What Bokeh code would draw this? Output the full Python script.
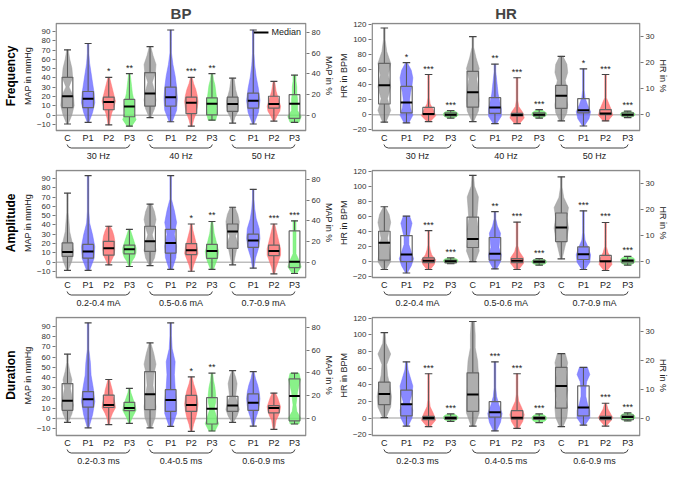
from bokeh.plotting import figure
from bokeh.layouts import column, row
from bokeh.models import Range1d, LinearAxis, FixedTicker, Title, Legend, LegendItem
from bokeh.core.properties import value
from bokeh.embed import file_html
from bokeh.resources import INLINE

FONT = "Liberation Sans"
COLORS = ["#9a9a9a", "#6b6bff", "#ff6b6b", "#6bef6b"] * 3
CAT_LABELS = ["C", "P1", "P2", "P3"] * 3
CAT_GROUP = [0, 0, 0, 0, 1, 1, 1, 1, 2, 2, 2, 2]
X = list(range(12))

FREQ_GROUPS = ["30 Hz", "40 Hz", "50 Hz"]
AMP_GROUPS = ["0.2-0.4 mA", "0.5-0.6 mA", "0.7-0.9 mA"]
DUR_GROUPS = ["0.2-0.3 ms", "0.4-0.5 ms", "0.6-0.9 ms"]

bp_freq_lo = [-9.5, -7.8, -10.5, -11.9, -2.7, -7.1, -11.9, -5.4, -8.5, -9.5, -6.4, -7.8]
bp_freq_q1 = [8.1, 8.1, 5.8, -1.7, 9.8, 9.8, 1.7, 0.3, 4.1, 7.5, 7.5, -3.4]
bp_freq_med = [20.3, 17.6, 14.2, 9.2, 23.4, 19.3, 13.2, 12.2, 11.9, 15.6, 11.9, 12.2]
bp_freq_q3 = [40.7, 25.4, 19.3, 16.9, 45.8, 30.2, 19.3, 18.6, 19.3, 23.7, 20.3, 22.0]
bp_freq_hi = [70.2, 77.0, 40.7, 44.7, 73.6, 91.5, 40.7, 44.7, 39.7, 91.5, 36.3, 43.0]
bp_freq_shape = [[1, 6, 9, 8, 2, 7, 6, 3, 1], [1, 6, 9, 8, 6, 4, 2, 1, 1], [1, 2, 4, 7, 9, 7, 5, 3, 1],
                 [3, 9, 6, 7, 6, 4, 3, 2, 1], [1, 6, 8, 6, 3, 7, 8, 4, 1], [2, 8, 9, 8, 6, 3, 1, 1, 1],
                 [1, 3, 6, 8, 9, 8, 6, 3, 1], [5, 7, 6, 7, 6, 5, 4, 2, 1], [1, 3, 7, 8, 8, 6, 4, 3, 2],
                 [1, 7, 9, 7, 4, 2, 1, 1, 1], [1, 4, 8, 9, 7, 5, 3, 2, 1], [6, 9, 4, 4, 4, 3, 3, 2, 2]]
bp_freq_sig = ["", "", "*", "**", "", "", "***", "**", "", "", "", ""]

hr_freq_lo = [-10, -10.8, -9.2, -4.6, -9.2, -12, -12, -4.6, -8.3, -15, -8.3, -3.8]
hr_freq_q1 = [14.2, 2.5, 0, -1.7, 10, 1.7, -1.5, -1.7, 8.3, 2.5, 0, -1.7]
hr_freq_med = [39.2, 16.2, 0.8, 0, 29.6, 9.6, -0.4, 0, 25, 5.8, 1.7, 0]
hr_freq_q3 = [68, 37.5, 9.6, 2.5, 57.5, 22.5, 1.7, 2.5, 38.8, 21.3, 6.7, 2.5]
hr_freq_hi = [115, 69, 53.3, 5.4, 103.7, 67, 49, 6.7, 77.5, 60.8, 53.3, 4.6]
hr_freq_shape = [[2, 8, 4, 8, 5, 8, 3, 1, 1], [3, 8, 5, 4, 5, 7, 8, 6, 1], [2, 9, 6, 2, 1, 1, 1, 1, 1],
                 [2, 6, 8, 9, 9, 9, 8, 6, 2], [1, 7, 8, 7, 5, 8, 4, 1, 1], [2, 8, 8, 6, 4, 3, 2, 1, 1],
                 [3, 9, 7, 2, 1, 1, 1, 1, 1], [2, 6, 8, 9, 9, 9, 7, 5, 2], [2, 7, 8, 6, 7, 5, 8, 7, 2],
                 [1, 7, 9, 5, 2, 1, 1, 1, 1], [3, 9, 7, 4, 1, 1, 1, 1, 1], [2, 6, 8, 9, 9, 9, 8, 6, 2]]
hr_freq_sig = ["", "*", "***", "***", "", "**", "***", "***", "", "*", "***", "***"]

bp_amp_lo = [-8.8, -8.8, -3, -4.7, -3.7, -7.8, -9.8, -7.8, -3, -6.4, -12.5, -12.2]
bp_amp_q1 = [6.1, 4.4, 7.5, 8.8, 11.5, 9.8, 8.1, 4.1, 14.9, 15.9, 7.1, -5.8]
bp_amp_med = [10.8, 11.5, 14.9, 13.9, 22.4, 20.7, 12.9, 11.9, 32.9, 23.4, 11.9, 0.3]
bp_amp_q3 = [20.7, 19, 22.4, 18.3, 38.6, 35.3, 20, 19, 41, 30.2, 18.3, 33.6]
bp_amp_hi = [74.2, 92.9, 38.6, 35.3, 62.4, 92.9, 41, 43.7, 59, 78.3, 41, 44.4]
bp_amp_shape = [[1, 6, 8, 6, 3, 2, 1, 1, 1], [2, 8, 9, 6, 2, 1, 1, 1, 1], [1, 4, 7, 8, 8, 8, 7, 5, 2],
                [1, 3, 7, 9, 9, 7, 5, 3, 1], [1, 6, 8, 6, 3, 6, 8, 6, 2], [2, 7, 8, 5, 8, 5, 1, 1, 1],
                [1, 3, 6, 9, 8, 6, 4, 2, 1], [2, 5, 8, 9, 7, 5, 3, 2, 1], [1, 3, 5, 7, 4, 8, 9, 7, 3],
                [1, 3, 7, 9, 8, 4, 2, 1, 1], [1, 3, 6, 9, 9, 7, 5, 3, 1], [3, 9, 6, 2, 2, 2, 2, 2, 2]]
bp_amp_sig = ["", "", "", "", "", "", "*", "**", "", "", "***", "***"]

hr_amp_lo = [-10.4, -15, -10.4, -2.5, 0, -9.6, -10.4, -4.6, 3.8, -10.4, -11.7, -4.6]
hr_amp_q1 = [2.1, 0, -1.3, -1.5, 18.8, 2.1, -1.3, -1.5, 26.7, 2.9, 0, -1.5]
hr_amp_med = [25, 9.6, 1.3, 0.4, 30, 10.4, 1.3, 0, 45.4, 10, 0.4, 1.3]
hr_amp_q3 = [40.4, 34.6, 5, 2, 59.2, 32.1, 4.2, 2, 64.6, 19.6, 8.3, 2.5]
hr_amp_hi = [72.9, 60.4, 41.3, 5, 114.6, 66.3, 52.5, 4.2, 112.5, 67.5, 52, 7.1]
hr_amp_shape = [[2, 8, 7, 6, 4, 6, 8, 6, 1], [1, 6, 9, 6, 3, 3, 5, 7, 4], [2, 7, 9, 4, 2, 1, 1, 1, 1],
                [2, 6, 8, 9, 9, 9, 8, 6, 2], [3, 8, 6, 7, 5, 6, 7, 2, 1], [2, 7, 8, 5, 6, 7, 3, 1, 1],
                [2, 8, 8, 3, 1, 1, 1, 1, 1], [2, 6, 8, 9, 9, 9, 8, 6, 2], [1, 4, 7, 9, 7, 9, 3, 1, 1],
                [2, 8, 9, 6, 2, 1, 1, 1, 1], [2, 8, 7, 3, 1, 1, 1, 1, 1], [2, 6, 8, 9, 9, 9, 8, 6, 2]]
hr_amp_sig = ["", "", "***", "***", "", "**", "***", "***", "", "***", "***", "***"]

bp_dur_lo = [-3.7, -9, -5.9, -4.6, -9, -7.7, -12.4, -12.1, -3.7, -7.4, -10.5, -5.3]
bp_dur_q1 = [8, 11.1, 10.8, 7.7, 8.7, 7.1, 7.1, -5.3, 7.1, 8, 5.6, -2.2]
bp_dur_med = [17.3, 18.9, 13.3, 10.2, 23.8, 18, 13.3, 9.6, 12.7, 15.5, 10.2, 22]
bp_dur_q3 = [34.1, 26.3, 22.9, 15.8, 45.8, 28.2, 22.6, 20.4, 21.7, 24.1, 12.7, 38.7]
bp_dur_hi = [62.8, 93.2, 38.1, 29.4, 73.7, 93.2, 40.6, 44.3, 46.7, 45.8, 24.8, 44.3]
bp_dur_shape = [[1, 6, 8, 6, 4, 6, 3, 1, 1], [1, 6, 9, 7, 4, 3, 1, 1, 1], [1, 2, 5, 9, 8, 6, 5, 3, 1],
                [1, 3, 6, 9, 8, 6, 4, 2, 1], [2, 7, 8, 6, 4, 5, 8, 5, 1], [2, 8, 8, 6, 5, 6, 2, 1, 1],
                [1, 3, 6, 8, 9, 8, 6, 3, 1], [4, 9, 6, 3, 5, 5, 4, 2, 1], [1, 6, 9, 7, 4, 5, 6, 4, 1],
                [1, 3, 6, 8, 9, 8, 6, 3, 1], [1, 2, 3, 6, 8, 9, 7, 5, 2], [6, 8, 3, 2, 3, 4, 6, 8, 6]]
bp_dur_sig = ["", "", "", "", "", "", "*", "**", "", "", "", ""]

hr_dur_lo = [0.4, -9.7, -10.4, -3.9, -9.7, -15.4, -12.4, -5.4, -10.4, -8.5, -9.7, -3.5]
hr_dur_q1 = [16.2, 2.7, -1.9, -1.5, 8.1, 1.2, -1.2, -1.5, 12, 2.7, -1.9, -1.9]
hr_dur_med = [29, 16.6, 0, 0, 28.2, 6.9, 0.4, 0, 38.6, 12.7, 0, 1.2]
hr_dur_q3 = [43.2, 33.6, 1.9, 1.5, 54.4, 19.7, 8.9, 1.5, 61, 38.6, 1.9, 3.5]
hr_dur_hi = [102.7, 67.6, 53.3, 5, 116.2, 67.6, 53.3, 5, 77.6, 61, 17.8, 6.2]
hr_dur_shape = [[2, 8, 9, 7, 4, 3, 8, 2, 1], [2, 7, 8, 4, 7, 8, 5, 2, 1], [2, 9, 6, 2, 1, 1, 1, 1, 1],
                [2, 6, 8, 9, 9, 9, 8, 6, 2], [2, 8, 8, 7, 7, 6, 3, 3, 2], [2, 7, 9, 5, 2, 1, 1, 1, 1],
                [2, 7, 9, 6, 2, 1, 1, 1, 1], [2, 6, 8, 9, 9, 9, 8, 6, 2], [2, 7, 8, 6, 8, 7, 6, 8, 5],
                [2, 8, 8, 5, 3, 3, 4, 8, 5], [1, 4, 7, 9, 7, 5, 3, 2, 1], [2, 6, 8, 9, 9, 9, 8, 6, 2]]
hr_dur_sig = ["", "", "***", "***", "", "***", "***", "***", "", "", "***", "***"]

BP_TICKS = [-10, 0, 10, 20, 30, 40, 50, 60, 70, 80, 90]
BP_PCT_TICKS = [0, 20, 40, 60, 80]
HR_TICKS = [-20, 0, 20, 40, 60, 80, 100, 120]
HR_PCT_TICKS = [0, 10, 20, 30]

BP_W, HR_W = 335, 334
XMIN, XMAX = -0.55, 11.55
WSCALE = 0.036
BOXW = 0.26
CAPW = 0.17
LABEL_LEN = {"MAP in mmHg": 58, "MAP in %": 40, "HR in BPM": 45, "HR in %": 33,
             "Frequency": 61, "Amplitude": 59, "Duration": 50}


def spec(kind):
    if kind == "BP":
        return dict(ylo=-16.5, yhi=98.5, k=0.9, lt=BP_TICKS, rt=BP_PCT_TICKS,
                    ll="MAP in mmHg", rl="MAP in %", W=BP_W)
    return dict(ylo=-21.0, yhi=121.0, k=0.288, lt=HR_TICKS, rt=HR_PCT_TICKS,
                ll="HR in BPM", rl="HR in %", W=HR_W)


def style_axis(ax):
    ax.axis_line_color = None
    ax.major_tick_line_color = "#777777"
    ax.major_tick_out = 3
    ax.major_tick_in = 0
    ax.minor_tick_line_color = None
    ax.minor_tick_out = 0
    ax.minor_tick_in = 0
    ax.major_label_text_font_size = "8px"
    ax.major_label_text_font = FONT
    ax.major_label_text_color = "#333333"
    ax.major_label_standoff = 2
    # the axis titles are drawn as side Titles; keep the (empty) axis-label slot from taking room
    ax.axis_label_standoff = 0
    ax.axis_label_text_font_size = "1px"


def side_title(text, side, box_h, bold=False):
    off = max(0, (box_h - LABEL_LEN[text]) / 2)
    return Title(text=text, align="right" if side == "left" else "left", offset=off,
                 text_font_size="12px" if bold else "9px", text_font=FONT,
                 text_font_style="bold" if bold else "normal",
                 text_color="black" if bold else "#222222",
                 standoff=3 if bold else (2 if side == "left" else 0))


def panel(lo, q1, med, q3, hi, shape, sig, groups, kind, rowtitle, coltitle,
          top, box_h, ann_h, legend=False):
    s = spec(kind)
    ylo, yhi, k = s["ylo"], s["yhi"], s["k"]
    pxu = box_h / (yhi - ylo)
    y0 = ylo - ann_h / pxu
    y1 = yhi + 1 / pxu
    p = figure(width=s["W"], height=top + box_h + ann_h + 1,
               x_range=Range1d(XMIN - 0.03, XMAX + 0.03), y_range=Range1d(y0, y1),
               output_backend="svg", toolbar_location=None,
               x_axis_location=None, y_axis_location=None,
               min_border_left=4, min_border_right=2,
               min_border_top=top, min_border_bottom=0)
    p.background_fill_color = "white"
    p.border_fill_color = "white"
    p.outline_line_color = None
    p.xgrid.visible = False
    p.ygrid.visible = False

    yax = LinearAxis(ticker=FixedTicker(ticks=s["lt"]))
    style_axis(yax)
    p.add_layout(yax, "left")
    p.add_layout(side_title(s["ll"], "left", box_h), "left")
    if rowtitle:
        p.add_layout(side_title(rowtitle, "left", box_h, bold=True), "left")

    p.extra_y_ranges = {"pct": Range1d(y0 * k, y1 * k), "ann": Range1d(-ann_h, box_h + 1)}
    rax = LinearAxis(y_range_name="pct", ticker=FixedTicker(ticks=s["rt"]))
    style_axis(rax)
    p.add_layout(rax, "right")
    p.add_layout(side_title(s["rl"], "right", box_h), "right")

    if coltitle:
        p.title.text = coltitle
        p.title.align = "center"
        p.title.text_font_size = "15px"
        p.title.text_font = FONT
        p.title.text_font_style = "bold"
        p.title.standoff = 2
        p.title.offset = 0

    # zero line and plot box
    p.segment([XMIN], [0], [XMAX], [0], line_color="#bdbdbd", line_width=1.5)
    p.quad(left=[XMIN], right=[XMAX], bottom=[ylo], top=[yhi], fill_alpha=0,
           line_color="#8a8a8a", line_width=1.5)

    # violins
    vxs, vys = [], []
    for i in X:
        n = len(shape[i])
        levels = [lo[i] + j * (hi[i] - lo[i]) / (n - 1) for j in range(n)]
        ws = [v * WSCALE for v in shape[i]]
        vxs.append([i + w for w in ws] + [i - w for w in ws[::-1]])
        vys.append(levels + levels[::-1])
    p.patches(vxs, vys, fill_color=COLORS, fill_alpha=0.8, line_color=COLORS,
              line_alpha=0.8, line_width=0.6)

    # whiskers, caps, boxes, medians
    p.segment(X, q3, X, hi, line_color="#555555", line_width=1)
    p.segment(X, lo, X, q1, line_color="#555555", line_width=1)
    p.segment([x - CAPW for x in X], hi, [x + CAPW for x in X], hi, line_color="#444444", line_width=1.2)
    p.segment([x - CAPW for x in X], lo, [x + CAPW for x in X], lo, line_color="#444444", line_width=1.2)
    p.quad(left=[x - BOXW for x in X], right=[x + BOXW for x in X], bottom=q1, top=q3,
           fill_alpha=0, line_color="#666666", line_width=1.2)
    mr = p.segment([x - BOXW for x in X], med, [x + BOXW for x in X], med,
                   line_color="black", line_width=2)
    # significance marks
    p.text(X, hi, text=sig, text_align="center", text_baseline="bottom", y_offset=-1,
           text_font=value(FONT), text_font_size="9px", text_color="#222222")

    # category labels, brackets and group labels below the box
    p.text(X, [-2] * len(X), text=CAT_LABELS, text_align="center", text_baseline="top",
           text_font=value(FONT), text_font_size="9px", text_color="#222222", y_range_name="ann")
    xs, ys, cx = [], [], []
    for g in range(len(groups)):
        members = [i for i in X if CAT_GROUP[i] == g]
        st, en = min(members), max(members)
        xs.append([st - 0.02, st + 0.05, st + 0.18, en - 0.18, en - 0.05, en + 0.02])
        ys.append([-14, -16.5, -17.5, -17.5, -16.5, -14])
        cx.append((st + en) / 2)
    p.multi_line(xs, ys, line_color="#444444", line_width=1, y_range_name="ann")
    p.text(cx, [-25] * len(cx), text=groups, text_align="center", text_baseline="middle",
           text_font=value(FONT), text_font_size="9px", text_color="#222222", y_range_name="ann")

    if legend:
        lg = Legend(items=[LegendItem(label="Median", renderers=[mr])], location="top_right",
                    border_line_color=None, background_fill_alpha=0,
                    label_text_font_size="9px", label_text_font=FONT, label_text_color="#222222",
                    glyph_width=15, glyph_height=8, padding=2, margin=5, spacing=0,
                    label_standoff=3, label_height=10)
        p.add_layout(lg)
    return p


bp1 = panel(bp_freq_lo, bp_freq_q1, bp_freq_med, bp_freq_q3, bp_freq_hi, bp_freq_shape, bp_freq_sig,
            FREQ_GROUPS, "BP", "Frequency", "BP", 22, 107, 33, legend=True)
hr1 = panel(hr_freq_lo, hr_freq_q1, hr_freq_med, hr_freq_q3, hr_freq_hi, hr_freq_shape, hr_freq_sig,
            FREQ_GROUPS, "HR", None, "HR", 22, 107, 33)
bp2 = panel(bp_amp_lo, bp_amp_q1, bp_amp_med, bp_amp_q3, bp_amp_hi, bp_amp_shape, bp_amp_sig,
            AMP_GROUPS, "BP", "Amplitude", None, 6, 107, 33)
hr2 = panel(hr_amp_lo, hr_amp_q1, hr_amp_med, hr_amp_q3, hr_amp_hi, hr_amp_shape, hr_amp_sig,
            AMP_GROUPS, "HR", None, None, 6, 107, 33)
bp3 = panel(bp_dur_lo, bp_dur_q1, bp_dur_med, bp_dur_q3, bp_dur_hi, bp_dur_shape, bp_dur_sig,
            DUR_GROUPS, "BP", "Duration", None, 6, 118, 30)
hr3 = panel(hr_dur_lo, hr_dur_q1, hr_dur_med, hr_dur_q3, hr_dur_hi, hr_dur_shape, hr_dur_sig,
            DUR_GROUPS, "HR", None, None, 6, 118, 30)

layout = column(row(bp1, hr1), row(bp2, hr2), row(bp3, hr3))

open("out.html", "w").write(file_html(layout, INLINE))
